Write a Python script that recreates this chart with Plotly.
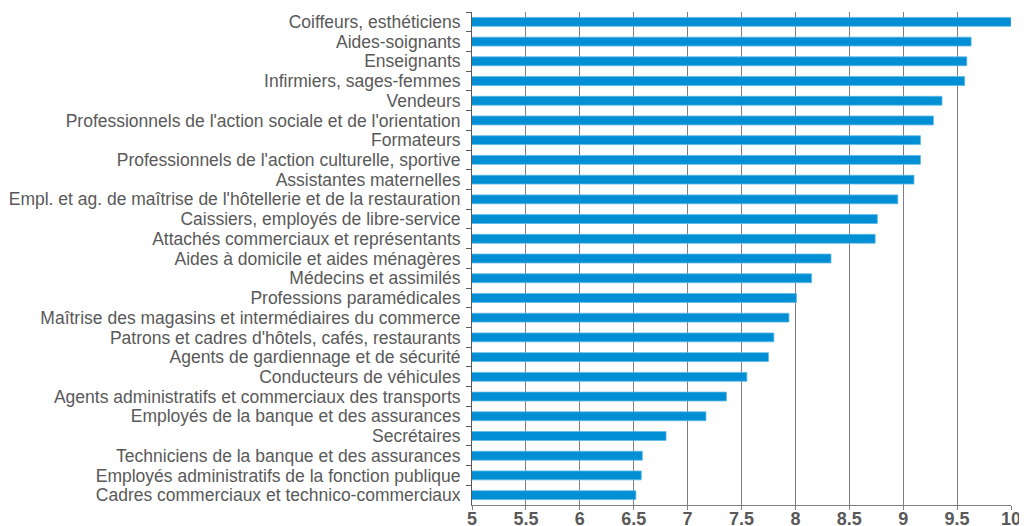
import plotly.graph_objects as go

professions = [
    "Coiffeurs, esthéticiens",
    "Aides-soignants",
    "Enseignants",
    "Infirmiers, sages-femmes",
    "Vendeurs",
    "Professionnels de l'action sociale et de l'orientation",
    "Formateurs",
    "Professionnels de l'action culturelle, sportive",
    "Assistantes maternelles",
    "Empl. et ag. de maîtrise de l'hôtellerie et de la restauration",
    "Caissiers, employés de libre-service",
    "Attachés commerciaux et représentants",
    "Aides à domicile et aides ménagères",
    "Médecins et assimilés",
    "Professions paramédicales",
    "Maîtrise des magasins et intermédiaires du commerce",
    "Patrons et cadres d'hôtels, cafés, restaurants",
    "Agents de gardiennage et de sécurité",
    "Conducteurs de véhicules",
    "Agents administratifs et commerciaux des transports",
    "Employés de la banque et des assurances",
    "Secrétaires",
    "Techniciens de la banque et des assurances",
    "Employés administratifs de la fonction publique",
    "Cadres commerciaux et technico-commerciaux",
]

scores = [
    10.0, 9.63, 9.59, 9.57, 9.36, 9.28, 9.16, 9.16, 9.10, 8.95,
    8.76, 8.74, 8.33, 8.15, 8.01, 7.94, 7.80, 7.75, 7.55, 7.36,
    7.17, 6.80, 6.58, 6.57, 6.52,
]

x_ticks = [5, 5.5, 6, 6.5, 7, 7.5, 8, 8.5, 9, 9.5, 10]

GREY = "#595959"

fig = go.Figure(go.Bar(
    x=scores,
    y=professions,
    orientation="h",
    width=0.45,
    marker=dict(color="#008FD5", line=dict(color="#5DB8E6", width=0.8)),
    hoverinfo="x+y",
))

# the page body has an 8px margin, so the margins below are offset by it
fig.update_layout(
    width=1027,
    height=526,
    font=dict(family="Liberation Sans, Arial, sans-serif", color=GREY),
    plot_bgcolor="white",
    paper_bgcolor="white",
    margin=dict(l=464, r=24, t=4, b=29, autoexpand=False),
    showlegend=False,
    xaxis=dict(
        range=[5, 10],
        tickvals=x_ticks,
        ticktext=[f"{t:g}" for t in x_ticks],
        tickfont=dict(size=18, color=GREY, weight="bold"),
        showgrid=True,
        gridcolor="#7f7f7f",
        gridwidth=1,
        showline=True,
        linecolor="#7f7f7f",
        ticks="outside",
        ticklen=4,
        tickcolor="#7f7f7f",
        ticklabelstandoff=-7,
        zeroline=False,
        automargin=False,
        fixedrange=True,
    ),
    yaxis=dict(
        autorange="reversed",
        tickmode="linear",
        dtick=1,
        tickfont=dict(size=17.5, color=GREY),
        showline=True,
        linecolor="#595959",
        linewidth=1,
        ticks="outside",
        tickson="boundaries",
        ticklen=5,
        tickcolor="#595959",
        ticklabelstandoff=7,
        showgrid=False,
        automargin=False,
        fixedrange=True,
    ),
)

fig.write_html("out.html")
